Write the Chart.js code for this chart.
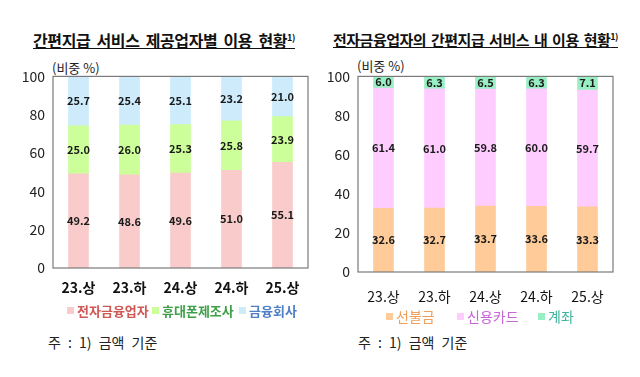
<!DOCTYPE html>
<html>
<head>
<meta charset="utf-8">
<script src="https://cdn.jsdelivr.net/npm/chart.js@4.4.1/dist/chart.umd.min.js"></script>
<style>
body{margin:0;background:#fff;font-family:"Noto Sans CJK KR",sans-serif;}
#wrap{position:relative;width:640px;height:377px;overflow:hidden;}
.title{position:absolute;top:28px;font-size:16px;font-weight:bold;color:#111;text-decoration:underline;white-space:nowrap;letter-spacing:-0.4px;word-spacing:3px;}
.title sup{font-size:9px;}
.unit{position:absolute;font-size:13px;color:#222;}
.legend{position:absolute;white-space:nowrap;}
.legend span.sq{display:inline-block;width:7px;height:7px;margin-right:3px;vertical-align:2px;}
.note{position:absolute;top:332px;font-size:14px;color:#222;white-space:nowrap;word-spacing:4px;}
canvas{position:absolute;}
</style>
</head>
<body>
<div id="wrap">
  <div class="title" style="left:33px">간편지급 서비스 제공업자별 이용 현황<sup>1)</sup></div>
  <div class="title" style="left:333px;top:29px;font-size:15px;letter-spacing:-0.5px;word-spacing:2px">전자금융업자의 간편지급 서비스 내 이용 현황<sup>1)</sup></div>
  <div class="unit" style="left:52px;top:58px">(비중 %)</div>
  <div class="unit" style="left:357px;top:56px">(비중 %)</div>
  <canvas id="left" width="320" height="250" style="left:0;top:60px"></canvas>
  <canvas id="right" width="320" height="250" style="left:320px;top:60px"></canvas>
  <div id="legL"></div>
  <div id="legR"></div>
  <div class="note" style="left:48px">주 : 1) 금액 기준</div>
  <div class="note" style="left:358px">주 : 1) 금액 기준</div>
</div>
<script>
const categories = ['23.상', '23.하', '24.상', '24.하', '25.상'];

// left chart
const eFinance = [49.2, 48.6, 49.6, 51.0, 55.1];
const phoneMaker = [25.0, 26.0, 25.3, 25.8, 23.9];
const finCompany = [25.7, 25.4, 25.1, 23.2, 21.0];

// right chart
const prepaid = [32.6, 32.7, 33.7, 33.6, 33.3];
const creditCard = [61.4, 61.0, 59.8, 60.0, 59.7];
const account = [6.0, 6.3, 6.5, 6.3, 7.1];

const yTicks = [0, 20, 40, 60, 80, 100];

const fontFam = '"Noto Sans CJK KR", sans-serif';

const boxPlugin = {
  id: 'box',
  afterDraw(chart) {
    const a = chart.chartArea, c = chart.ctx;
    c.save();
    c.strokeStyle = '#7a7a7a';
    c.lineWidth = 1.2;
    c.strokeRect(a.left, a.top, a.right - a.left, a.bottom - a.top);
    c.restore();
  }
};

const valuePlugin = {
  id: 'values',
  afterDatasetsDraw(chart) {
    const c = chart.ctx;
    c.save();
    c.font = 'bold 11px ' + fontFam;
    c.fillStyle = '#1a1a1a';
    c.textAlign = 'center';
    c.textBaseline = 'middle';
    chart.data.datasets.forEach((ds, i) => {
      chart.getDatasetMeta(i).data.forEach((bar, j) => {
        c.fillText(ds.data[j].toFixed(1), bar.x, (bar.y + bar.base) / 2);
      });
    });
    c.restore();
  }
};

function stackChart(id, sets, axisW, padRight, xH, xPad, boldX) {
  return new Chart(document.getElementById(id), {
    type: 'bar',
    data: {
      labels: categories,
      datasets: sets.map(s => ({
        label: s.label,
        data: s.data,
        backgroundColor: s.color,
        barThickness: 20,
        borderWidth: 0
      }))
    },
    options: {
      responsive: false,
      animation: false,
      layout: { padding: { top: 15, right: padRight, left: 0, bottom: 0 } },
      plugins: { legend: { display: false }, tooltip: { enabled: false } },
      scales: {
        x: {
          stacked: true,
          grid: { display: false, drawTicks: false },
          border: { display: false },
          ticks: { color: '#111', padding: xPad, font: { size: 14, family: fontFam, weight: boldX ? 'bold' : 'normal' } },
          afterFit(s) { s.height = xH; }
        },
        y: {
          stacked: true,
          min: 0,
          max: 100,
          afterBuildTicks(s) { s.ticks = yTicks.map(v => ({ value: v })); },
          grid: { display: false, drawTicks: false },
          border: { display: false },
          ticks: { color: '#222', padding: 8, font: { size: 14, family: fontFam } },
          afterFit(s) { s.width = axisW; }
        }
      }
    },
    plugins: [boxPlugin, valuePlugin]
  });
}

const leftSets = [
  { label: '전자금융업자', data: eFinance, color: '#f9cbcb', text: '#cf5a55' },
  { label: '휴대폰제조사', data: phoneMaker, color: '#ccff99', text: '#3f9f48' },
  { label: '금융회사', data: finCompany, color: '#cdebfb', text: '#4f7fc4' }
];
const rightSets = [
  { label: '선불금', data: prepaid, color: '#ffcc99', text: '#ef9f5a' },
  { label: '신용카드', data: creditCard, color: '#ffccff', text: '#c767d6' },
  { label: '계좌', data: account, color: '#99efc4', text: '#3fb39c' }
];

stackChart('left', leftSets, 53, 12, 42, 11, true);
stackChart('right', rightSets, 38, 27, 38, 16, false);

function legend(el, sets, xs, top, style) {
  document.getElementById(el).innerHTML = sets.map((s, i) =>
    '<div class="legend" style="left:' + xs[i] + 'px;top:' + top + 'px;color:' + s.text + ';' + style + '">' +
    '<span class="sq" style="background:' + s.color + '"></span>' + s.label + '</div>'
  ).join('');
}
legend('legL', leftSets, [67, 152, 239], 301, 'font-size:13px;font-weight:bold');
legend('legR', rightSets, [386, 457, 538], 306, 'font-size:14px');
</script>
</body>
</html>
